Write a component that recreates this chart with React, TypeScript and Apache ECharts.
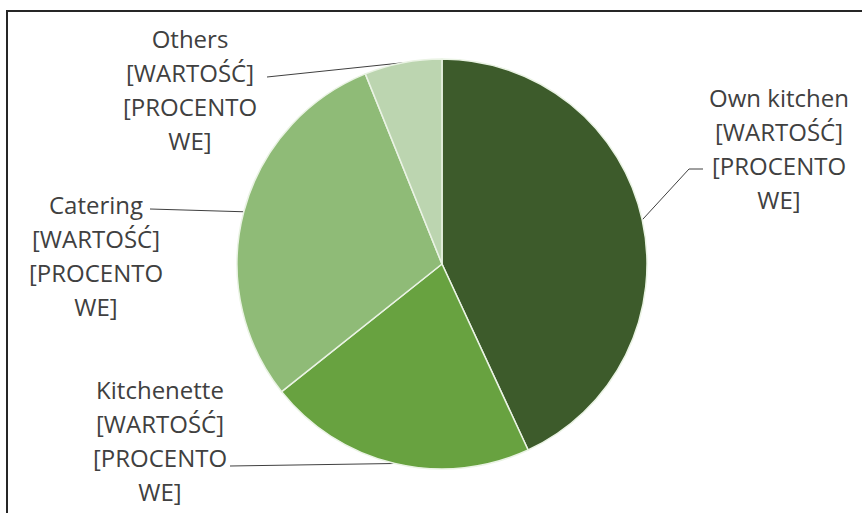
import React, { useEffect, useRef } from "react";
import * as echarts from "echarts";

const categories = ["Own kitchen", "Kitchenette", "Catering", "Others"];
const values = [43.1, 21.2, 29.6, 6.1];
const colors = ["#3d5b2b", "#68a240", "#8fbb77", "#bcd5b0"];
const labelLine2 = "[WARTOŚĆ]";
const labelLine3 = "[PROCENTO\nWE]";

// label block centres and leader elbow points (layout only)
const labelPos: [number, number][] = [
  [779, 148],
  [160, 440],
  [96, 255],
  [190, 89],
];
const leaderPts: [number, number][][] = [
  [[689, 169], [703, 169]],
  [[230, 466], [230, 466]],
  [[150, 209], [150, 209]],
  [[267, 77], [267, 77]],
];

export default function App() {
  const ref = useRef<HTMLDivElement>(null);
  useEffect(() => {
    if (!ref.current) return;
    const chart = echarts.init(ref.current, null, { renderer: "svg" });
    chart.setOption({
      animation: false,
      backgroundColor: "#ffffff",
      graphic: [
        {
          type: "rect",
          shape: { x: 7, y: 11, width: 900, height: 600 },
          style: { fill: "none", stroke: "#262626", lineWidth: 2 },
          silent: true,
        },
      ],
      series: [
        {
          type: "pie",
          center: [442, 264],
          radius: 205,
          startAngle: 90,
          clockwise: true,
          avoidLabelOverlap: false,
          data: categories.map((c, i) => ({
            name: c,
            value: values[i],
            itemStyle: { color: colors[i] },
          })),
          itemStyle: { borderColor: "#eaf3e4", borderWidth: 1.5 },
          label: {
            show: true,
            formatter: (p: any) => `${p.name}\n${labelLine2}\n${labelLine3}`,
            fontFamily: "Open Sans",
            fontSize: 24,
            lineHeight: 34,
            color: "#404040",
            align: "center",
          },
          labelLine: {
            show: true,
            lineStyle: { color: "#404040", width: 1 },
          },
          labelLayout: (params: any) => {
            const i = params.dataIndex;
            const start = params.labelLinePoints ? params.labelLinePoints[0] : null;
            const res: any = {
              x: labelPos[i][0],
              y: labelPos[i][1],
              align: "center",
              verticalAlign: "middle",
            };
            if (start) {
              res.labelLinePoints = [start, leaderPts[i][0], leaderPts[i][1]];
            }
            return res;
          },
        },
      ],
    });
    return () => chart.dispose();
  }, []);
  return (
    <div
      ref={ref}
      style={{ position: "absolute", left: 0, top: 0, width: 862, height: 513 }}
    />
  );
}
